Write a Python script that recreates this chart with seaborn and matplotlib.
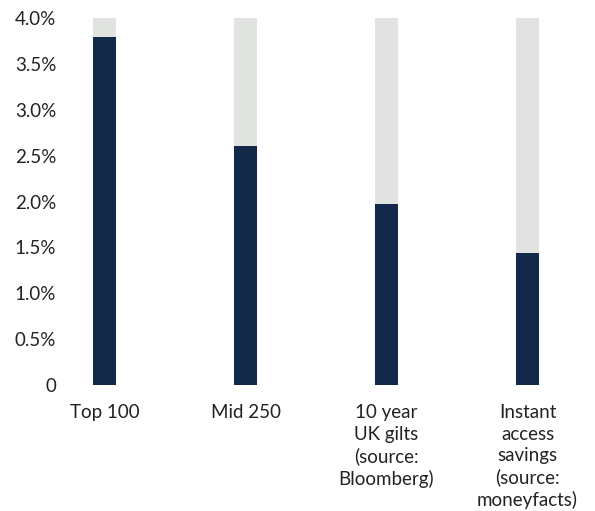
import matplotlib
matplotlib.use("Agg")
import matplotlib.pyplot as plt
import seaborn as sns
import pandas as pd

categories = ["Top 100", "Mid 250", "10 year\nUK gilts\n(source:\nBloomberg)",
              "Instant\naccess\nsavings\n(source:\nmoneyfacts)"]
yields = [3.79, 2.60, 1.97, 1.44]
scale_max = [4.0, 4.0, 4.0, 4.0]
y_ticks = [0, 0.5, 1.0, 1.5, 2.0, 2.5, 3.0, 3.5, 4.0]
y_tick_labels = ["0", "0.5%", "1.0%", "1.5%", "2.0%", "2.5%", "3.0%", "3.5%", "4.0%"]

sns.set_style("white")
plt.rcParams["font.family"] = ["Lato", "DejaVu Sans"]

df = pd.DataFrame({"category": categories, "value": yields, "max": scale_max})

fig = plt.figure(figsize=(5.95, 5.11), dpi=100)
ax = fig.add_axes([70 / 595, 126 / 511, 510 / 595, 367 / 511])

sns.barplot(data=df, x="category", y="max", color="#E1E3E1", width=0.165,
            saturation=1, linewidth=0, ax=ax)
sns.barplot(data=df, x="category", y="value", color="#12294A", width=0.165,
            saturation=1, linewidth=0, ax=ax)

ax.set_ylim(0, 4.0)
ax.set_xlim(-0.245, 3.372)
ax.set_yticks(y_ticks)
ax.set_yticklabels(y_tick_labels, fontsize=13.5, color="#222222")
ax.tick_params(axis="x", labelsize=13.5, colors="#222222", length=0, pad=14)
ax.tick_params(axis="y", length=0, pad=10)
for lbl in ax.get_xticklabels():
    lbl.set_linespacing(1.3)
ax.set_xlabel("")
ax.set_ylabel("")
for s in ax.spines.values():
    s.set_visible(False)

fig.savefig("out.png", dpi=100)
